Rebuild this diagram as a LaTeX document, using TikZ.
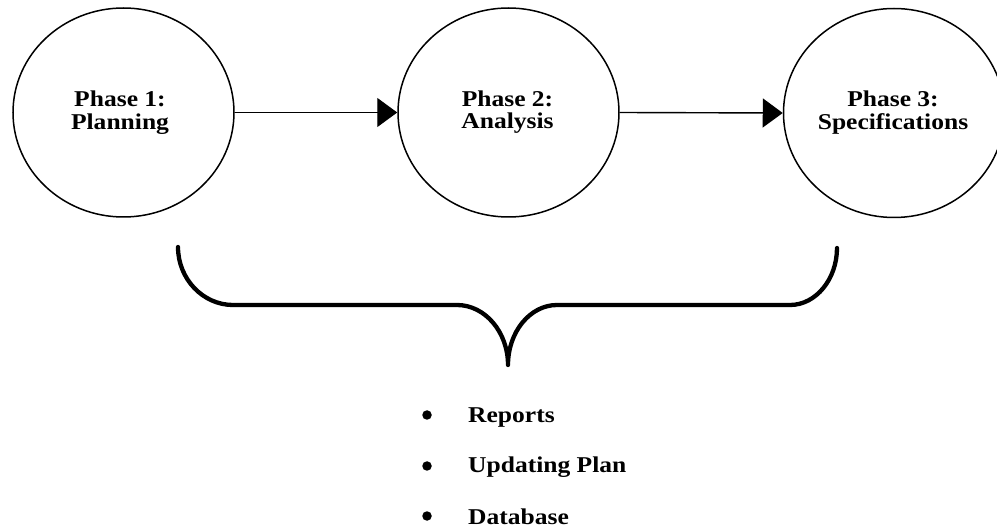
\documentclass[tikz,border=0pt]{standalone}
\usepackage{fontspec}
\setmainfont{Liberation Serif}[FakeStretch=1.13]
\usetikzlibrary{arrows.meta,shapes.geometric}
\begin{document}
\begin{tikzpicture}[x=1pt,y=-1pt,
  phase/.style={draw,line width=1.5pt,ellipse,inner sep=0pt,minimum width=221pt,minimum height=209pt},
  ptext/.style={anchor=base,inner sep=0pt,font=\fontsize{22.6pt}{23pt}\selectfont\bfseries},
  flow/.style={line width=1.4pt,-{Triangle[length=20pt,width=29pt]}},
  bracepath/.style={line width=4.3pt,line cap=round,line join=round},
  dotmark/.style={circle,fill=black,inner sep=0pt,minimum size=9.5pt},
  itemtext/.style={anchor=base west,inner sep=0pt,font=\fontsize{22.6pt}{23pt}\selectfont\bfseries}]
\useasboundingbox (0,0) rectangle (997,529);
\node[phase] (p1) at (123.5,112.5) {};
\node[phase] (p2) at (508.5,112.5) {};
\node[phase] (p3) at (894,113) {};
\node[ptext] (t1a) at (120,107) {Phase 1:};
\node[ptext] (t1b) at (120,130) {Planning};
\node[ptext] (t2a) at (507.5,107) {Phase 2:};
\node[ptext] (t2b) at (507.5,129) {Analysis};
\node[ptext] (t3a) at (893,107) {Phase 3:};
\node[ptext] (t3b) at (893,130) {Specifications};
\draw[flow] (p1.east) -- (p2.west);
\draw[flow] (p2.east) -- (p3.west);
\coordinate (bl) at (178,247);
\coordinate (br) at (837,248);
\coordinate (tip) at (508,365);
\draw[bracepath] (bl) .. controls (178,279) and (203,305) .. (233,305)
  -- (457,305) .. controls (485,305) and (508,332) .. (tip)
  .. controls (508,332) and (530,305) .. (557,305)
  -- (790,305) .. controls (816,305) and (837,279) .. (br);
\node[dotmark] (d1) at (427,415) {};
\node[dotmark] (d2) at (427,466) {};
\node[dotmark] (d3) at (427,516) {};
\node[itemtext] (i1) at (468,423) {Reports};
\node[itemtext] (i2) at (468,473) {Updating Plan};
\node[itemtext] (i3) at (468,524) {Database};
\end{tikzpicture}
\end{document}
